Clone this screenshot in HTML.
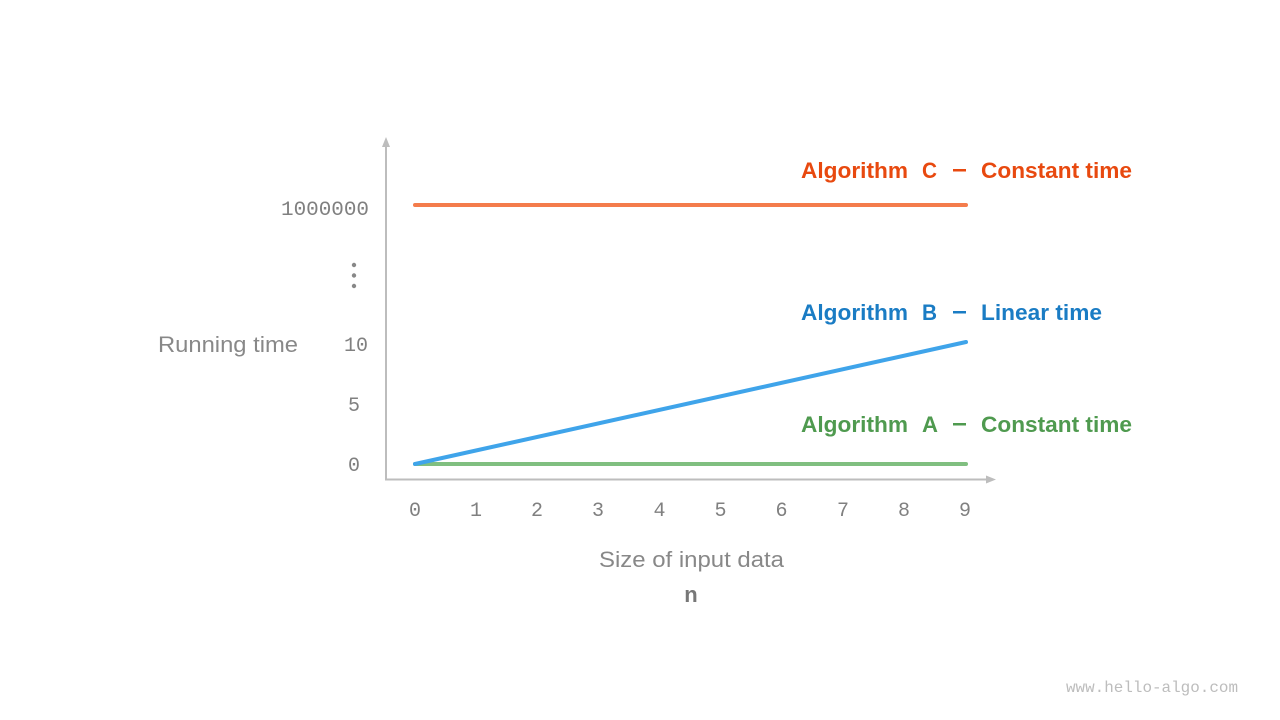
<!DOCTYPE html>
<html>
<head>
<meta charset="utf-8">
<style>
html,body{margin:0;padding:0;background:#fff;}
svg{display:block;}
.mono{font-family:"Liberation Mono",monospace;fill:#808080;font-size:20px;}
.sans{font-family:"Liberation Sans",sans-serif;}
.lg{font-weight:bold;font-size:22px;}
</style>
</head>
<body>
<svg width="1280" height="720" viewBox="0 0 1280 720" xmlns="http://www.w3.org/2000/svg">
  <rect width="1280" height="720" fill="#fff"/>
  <!-- axes -->
  <line x1="386" y1="143" x2="386" y2="479.5" stroke="#bdbdbd" stroke-width="2"/>
  <polygon points="386,137 382,147 390,147" fill="#bdbdbd"/>
  <line x1="385" y1="479.5" x2="990" y2="479.5" stroke="#bdbdbd" stroke-width="2"/>
  <polygon points="996,479.5 986,475.5 986,483.5" fill="#bdbdbd"/>

  <!-- series -->
  <line x1="415" y1="205" x2="966" y2="205" stroke="#f47c4c" stroke-width="4" stroke-linecap="round"/>
  <line x1="415" y1="464" x2="966" y2="464" stroke="#80bf80" stroke-width="4" stroke-linecap="round"/>
  <line x1="415" y1="464" x2="966" y2="342" stroke="#3fa4ea" stroke-width="4" stroke-linecap="round"/>

  <!-- y tick labels -->
  <text class="mono" x="369" y="215" text-anchor="end" textLength="88" lengthAdjust="spacingAndGlyphs">1000000</text>
  <text class="mono" x="368" y="351" text-anchor="end">10</text>
  <text class="mono" x="360" y="411" text-anchor="end">5</text>
  <text class="mono" x="360" y="471" text-anchor="end">0</text>
  <circle cx="354" cy="265" r="2.2" fill="#888"/>
  <circle cx="354" cy="275.5" r="2.2" fill="#888"/>
  <circle cx="354" cy="286" r="2.2" fill="#888"/>

  <!-- x tick labels -->
  <g class="mono" text-anchor="middle">
    <text x="415" y="516">0</text>
    <text x="476" y="516">1</text>
    <text x="537" y="516">2</text>
    <text x="598" y="516">3</text>
    <text x="659.5" y="516">4</text>
    <text x="720.5" y="516">5</text>
    <text x="781.5" y="516">6</text>
    <text x="843" y="516">7</text>
    <text x="904" y="516">8</text>
    <text x="965" y="516">9</text>
  </g>

  <!-- axis titles -->
  <text class="sans" x="158" y="352" font-size="22" fill="#888" textLength="140" lengthAdjust="spacingAndGlyphs">Running time</text>
  <text class="sans" x="599" y="567" font-size="22" fill="#888" textLength="185" lengthAdjust="spacingAndGlyphs">Size of input data</text>
  <text class="sans" x="691" y="602" font-size="22" font-weight="bold" fill="#777" text-anchor="middle">n</text>

  <!-- legend labels -->
  <g class="sans lg" fill="#e8490f">
    <text x="801" y="178" textLength="107" lengthAdjust="spacingAndGlyphs">Algorithm</text>
    <text x="922" y="178" textLength="15" lengthAdjust="spacingAndGlyphs">C</text>
    <rect x="953" y="169" width="13" height="2.5"/>
    <text x="981" y="178" textLength="151" lengthAdjust="spacingAndGlyphs">Constant time</text>
  </g>
  <g class="sans lg" fill="#1a7cc4">
    <text x="801" y="320" textLength="107" lengthAdjust="spacingAndGlyphs">Algorithm</text>
    <text x="922" y="320" textLength="15" lengthAdjust="spacingAndGlyphs">B</text>
    <rect x="953" y="311" width="13" height="2.5"/>
    <text x="981" y="320" textLength="121" lengthAdjust="spacingAndGlyphs">Linear time</text>
  </g>
  <g class="sans lg" fill="#4f9a4f">
    <text x="801" y="432" textLength="107" lengthAdjust="spacingAndGlyphs">Algorithm</text>
    <text x="922" y="432" textLength="16" lengthAdjust="spacingAndGlyphs">A</text>
    <rect x="953" y="423" width="13" height="2.5"/>
    <text x="981" y="432" textLength="151" lengthAdjust="spacingAndGlyphs">Constant time</text>
  </g>

  <!-- watermark -->
  <text x="1066" y="692" font-family="Liberation Mono, monospace" font-size="16" fill="#bdbdbd" textLength="172" lengthAdjust="spacingAndGlyphs">www.hello-algo.com</text>
</svg>
</body>
</html>
